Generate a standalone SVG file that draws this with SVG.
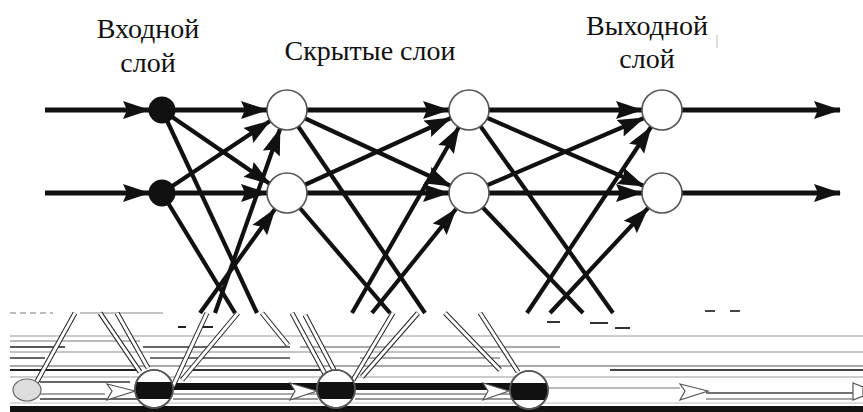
<svg xmlns="http://www.w3.org/2000/svg" width="863" height="412" viewBox="0 0 863 412">
<defs>
<style>
.lbl{font-family:"Liberation Serif","Times New Roman",serif;font-size:28px;fill:#111;text-anchor:middle}
.h{stroke:#111;stroke-width:5;fill:none}
.d{stroke:#111;stroke-width:4.2;fill:none}
.arr{marker-end:url(#ah)}
.hid{fill:#fff;stroke:#555;stroke-width:1.6}
.inp{fill:#111}
.gc{fill:#fff;stroke:#555;stroke-width:1.6}
.ghost{fill:#fff;stroke:#555;stroke-width:1.2}
</style>
<marker id="ah" markerUnits="userSpaceOnUse" markerWidth="28" markerHeight="20" refX="26" refY="10" orient="auto" viewBox="0 0 28 20">
<path d="M0,1 L27,10 L0,19 L4,10 z" fill="#111"/>
</marker>
<clipPath id="c1"><circle cx="154" cy="389" r="19"/></clipPath>
<clipPath id="c2"><circle cx="336" cy="389" r="19"/></clipPath>
<clipPath id="c3"><circle cx="529" cy="390" r="19"/></clipPath>
</defs>
<rect width="863" height="412" fill="#fff"/>

<g id="labels">
<text class="lbl" x="148" y="38">Входной</text>
<text class="lbl" x="148" y="72">слой</text>
<text class="lbl" x="370" y="60">Скрытые слои</text>
<text class="lbl" x="647" y="35">Выходной</text>
<text class="lbl" x="647" y="68">слой</text>
<line x1="717" y1="35" x2="717" y2="48" stroke="#bbb" stroke-width="1"/>
</g>

<g id="connectors">
<path class="h arr" d="M45,110 H149"/>
<path class="h arr" d="M162,110 H267"/>
<path class="h arr" d="M287,110 H449"/>
<path class="h arr" d="M469,110 H642"/>
<path class="h arr" d="M682,110 H840"/>
<path class="h arr" d="M45,193 H149"/>
<path class="h arr" d="M162,193 H267"/>
<path class="h arr" d="M287,193 H449"/>
<path class="h arr" d="M469,193 H642"/>
<path class="h arr" d="M682,193 H840"/>
<path class="d arr" d="M162,110 L270,184"/>
<path class="d arr" d="M162,193 L270,121"/>
<path class="d arr" d="M200,313 L275,209"/>
<path class="d arr" d="M215,313 L280,129"/>
<path class="d" d="M162,110 L257,313"/>
<path class="d" d="M162,193 L235,313"/>
<path class="d arr" d="M287,110 L451,186"/>
<path class="d arr" d="M287,193 L451,118"/>
<path class="d arr" d="M352,313 L459,127"/>
<path class="d arr" d="M372,313 L456,209"/>
<path class="d" d="M287,110 L425,313"/>
<path class="d" d="M287,193 L390,313"/>
<path class="d arr" d="M469,110 L644,186"/>
<path class="d arr" d="M469,193 L644,118"/>
<path class="d arr" d="M527,313 L651,127"/>
<path class="d arr" d="M550,313 L648,208"/>
<path class="d" d="M469,110 L613,313"/>
<path class="d" d="M469,193 L583,313"/>
</g>

<g id="input-1"><circle class="inp" cx="162" cy="110" r="13.5"/></g>
<g id="input-2"><circle class="inp" cx="162" cy="193" r="13.5"/></g>
<g id="hidden1-1"><circle class="hid" cx="287" cy="110" r="20"/></g>
<g id="hidden1-2"><circle class="hid" cx="287" cy="193" r="20"/></g>
<g id="hidden2-1"><circle class="hid" cx="469" cy="110" r="20"/></g>
<g id="hidden2-2"><circle class="hid" cx="469" cy="193" r="20"/></g>
<g id="output-1"><circle class="hid" cx="662" cy="110" r="20"/></g>
<g id="output-2"><circle class="hid" cx="662" cy="193" r="20"/></g>

<g id="glitch-band">
<line x1="10" y1="313" x2="53" y2="313" stroke="#777" stroke-width="1" stroke-dasharray="6 4"/>
<line x1="80" y1="313" x2="163" y2="313" stroke="#888" stroke-width="1"/>
<line x1="178" y1="327" x2="186" y2="327" stroke="#222" stroke-width="2"/>
<line x1="200" y1="327" x2="213" y2="327" stroke="#222" stroke-width="2"/>
<line x1="547" y1="322" x2="560" y2="322" stroke="#333" stroke-width="2"/>
<line x1="590" y1="323" x2="608" y2="323" stroke="#333" stroke-width="2"/>
<line x1="615" y1="328" x2="630" y2="328" stroke="#333" stroke-width="2"/>
<line x1="705" y1="311" x2="715" y2="311" stroke="#444" stroke-width="2"/>
<line x1="730" y1="311" x2="740" y2="311" stroke="#444" stroke-width="2"/>
<line x1="10" y1="336" x2="863" y2="336" stroke="#999" stroke-width="1.2"/>
<line x1="10" y1="341" x2="140" y2="341" stroke="#777" stroke-width="1"/>
<line x1="10" y1="347" x2="65" y2="347" stroke="#222" stroke-width="1.6"/>
<line x1="143" y1="347" x2="290" y2="347" stroke="#333" stroke-width="1.6"/>
<line x1="300" y1="347" x2="560" y2="347" stroke="#555" stroke-width="1"/>
<line x1="10" y1="352" x2="863" y2="352" stroke="#888" stroke-width="1"/>
<line x1="10" y1="358" x2="45" y2="358" stroke="#333" stroke-width="1.6"/>
<line x1="150" y1="358" x2="290" y2="358" stroke="#444" stroke-width="1.6"/>
<line x1="360" y1="358" x2="500" y2="358" stroke="#555" stroke-width="1.2"/>
<line x1="10" y1="366" x2="863" y2="366" stroke="#555" stroke-width="1.2"/>
<line x1="10" y1="370" x2="140" y2="370" stroke="#222" stroke-width="2"/>
<line x1="190" y1="370" x2="320" y2="370" stroke="#333" stroke-width="2"/>
<line x1="610" y1="370" x2="863" y2="370" stroke="#444" stroke-width="2"/>
<line x1="10" y1="377" x2="863" y2="377" stroke="#999" stroke-width="1"/>
<line x1="40" y1="382" x2="130" y2="382" stroke="#333" stroke-width="1.5"/>
<rect x="173" y="383" width="145" height="7" fill="#111"/>
<rect x="355" y="383" width="157" height="7" fill="#111"/>
<line x1="40" y1="394" x2="105" y2="394" stroke="#444" stroke-width="1"/>
<line x1="173" y1="394" x2="318" y2="394" stroke="#555" stroke-width="1"/>
<line x1="355" y1="394" x2="510" y2="394" stroke="#444" stroke-width="1"/>
<line x1="548" y1="388" x2="680" y2="388" stroke="#777" stroke-width="1"/>
<line x1="706" y1="393" x2="860" y2="393" stroke="#444" stroke-width="1.6"/>
<line x1="40" y1="399" x2="140" y2="399" stroke="#333" stroke-width="1.5"/>
<line x1="173" y1="399" x2="318" y2="399" stroke="#333" stroke-width="1"/>
<line x1="355" y1="399" x2="512" y2="399" stroke="#333" stroke-width="1"/>
<line x1="706" y1="399" x2="853" y2="399" stroke="#555" stroke-width="1"/>
<line x1="10" y1="403" x2="863" y2="403" stroke="#bbb" stroke-width="1"/>
<rect x="10" y="406" width="853" height="6" fill="#111"/>
</g>

<g id="glitch-edges">
<path d="M75,313 L35,385" stroke="#222" stroke-width="5"/>
<path d="M75,313 L35,385" stroke="#fff" stroke-width="3"/>
<path d="M100,313 L140,372" stroke="#222" stroke-width="5"/>
<path d="M100,313 L140,372" stroke="#fff" stroke-width="3"/>
<path d="M117,313 L148,368" stroke="#222" stroke-width="5"/>
<path d="M117,313 L148,368" stroke="#fff" stroke-width="3"/>
<path d="M207,313 L173,386" stroke="#222" stroke-width="5"/>
<path d="M207,313 L173,386" stroke="#fff" stroke-width="3"/>
<path d="M238,313 L182,380" stroke="#222" stroke-width="5"/>
<path d="M238,313 L182,380" stroke="#fff" stroke-width="3"/>
<path d="M262,313 L288,345" stroke="#222" stroke-width="5"/>
<path d="M262,313 L288,345" stroke="#fff" stroke-width="3"/>
<path d="M292,313 L325,374" stroke="#222" stroke-width="5"/>
<path d="M292,313 L325,374" stroke="#fff" stroke-width="3"/>
<path d="M305,315 L334,370" stroke="#222" stroke-width="5"/>
<path d="M305,315 L334,370" stroke="#fff" stroke-width="3"/>
<path d="M393,313 L353,380" stroke="#222" stroke-width="5"/>
<path d="M393,313 L353,380" stroke="#fff" stroke-width="3"/>
<path d="M418,313 L362,377" stroke="#222" stroke-width="5"/>
<path d="M418,313 L362,377" stroke="#fff" stroke-width="3"/>
<path d="M445,313 L500,370" stroke="#222" stroke-width="5"/>
<path d="M445,313 L500,370" stroke="#fff" stroke-width="3"/>
<path d="M480,313 L518,372" stroke="#222" stroke-width="5"/>
<path d="M480,313 L518,372" stroke="#fff" stroke-width="3"/>
</g>

<g id="glitch-arrows">
<path class="ghost" d="M107,384 L135,391 L107,400 L112,391 z"/>
<path class="ghost" d="M290,383 L317,391 L290,400 L295,391 z"/>
<path class="ghost" d="M483,383 L509,391 L483,400 L488,391 z"/>
<path class="ghost" d="M680,384 L708,391 L680,400 L685,391 z"/>
<path class="ghost" d="M853,383 L863,387 L863,396 L853,400 z"/>
<ellipse cx="27" cy="390" rx="14" ry="11" fill="#ddd" stroke="#666" stroke-width="1.2"/>
</g>

<g id="bottom-1">
<circle class="gc" cx="154" cy="389" r="19"/>
<rect x="130" y="382" width="50" height="17" fill="#111" clip-path="url(#c1)"/>
<circle cx="154" cy="389" r="19" fill="none" stroke="#555" stroke-width="1.6"/>
</g>
<g id="bottom-2">
<circle class="gc" cx="336" cy="389" r="19"/>
<rect x="312" y="382" width="50" height="17" fill="#111" clip-path="url(#c2)"/>
<circle cx="336" cy="389" r="19" fill="none" stroke="#555" stroke-width="1.6"/>
</g>
<g id="bottom-3">
<circle class="gc" cx="529" cy="390" r="19"/>
<rect x="505" y="383" width="50" height="17" fill="#111" clip-path="url(#c3)"/>
<circle cx="529" cy="390" r="19" fill="none" stroke="#555" stroke-width="1.6"/>
</g>
</svg>
